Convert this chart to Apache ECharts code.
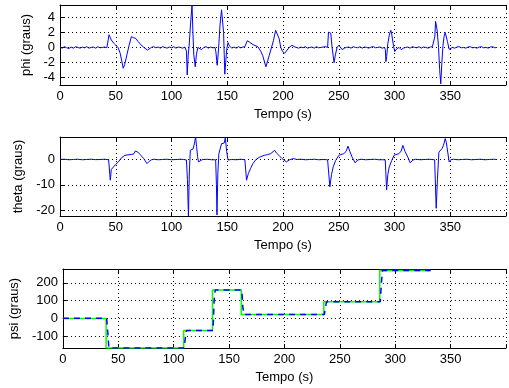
<!DOCTYPE html>
<html>
<head>
<meta charset="utf-8">
<script src="https://cdn.jsdelivr.net/npm/echarts@6/dist/echarts.min.js"></script>
<style>
  html, body { margin: 0; padding: 0; background: #fff; }
  #chart { width: 509px; height: 388px; }
</style>
</head>
<body>
<div id="chart"></div>
<script>
// x ticks (s)
const timeTicks = [0, 50, 100, 150, 200, 250, 300, 350]

// phi (graus)
const phiTime = [0, 2, 4, 6, 8, 10, 12, 14, 16, 18, 20, 22, 24, 26, 28, 30, 32, 34, 36, 38, 40, 42, 43.3, 44, 46, 48, 50, 52, 54, 56.7, 58, 60, 62, 64, 66, 67, 68, 70, 72.6, 74, 76, 78.5, 80, 82, 84, 86, 88, 90, 92, 94, 96, 98, 100, 102, 104, 106, 108, 110, 112, 113.4, 114.1, 115, 115.8, 117, 118.4, 119.2, 120, 121.3, 122.3, 123.6, 125, 127, 129, 131, 133, 135, 137, 139, 139.8, 141, 141.8, 142.5, 143.5, 144.9, 146, 146.7, 147.3, 147.8, 148.6, 149.5, 150.7, 152, 154, 156, 158, 160, 162, 164, 165.8, 168, 170, 171.6, 174, 177.4, 180, 181.8, 184.7, 187.6, 191.4, 193.4, 195, 196.5, 198, 199.5, 201.3, 203, 205, 208, 210, 212, 214, 216, 218, 220, 222, 224, 226, 228, 230, 232, 234, 236, 238, 240, 240.8, 242, 242.9, 244, 245.8, 247, 248.5, 250.1, 251.5, 253, 255, 257, 259, 261, 263, 265, 267, 269, 271, 273, 275, 277, 279, 281, 283, 285, 287, 289, 291, 291.8, 292.3, 293, 294, 295.5, 296.7, 297.5, 299, 300.2, 302, 304, 306, 308, 310, 312, 314, 316, 318, 320, 322, 324, 326, 328, 330, 332, 334, 335.5, 336.2, 336.8, 337.5, 338.3, 339.5, 340.5, 341.5, 342.5, 343.5, 344.5, 345.5, 346.5, 347.5, 349, 350, 352, 354, 356, 358, 360, 362, 364, 366, 368, 370, 372, 374, 376, 378, 380, 382, 384, 386, 388, 390, 392]
const phi = [0.05, -0.1, 0.1, -0.05, -0.15, 0.05, -0.1, 0.1, 0, -0.1, 0.05, -0.05, 0.1, -0.1, 0, 0.05, -0.1, 0.1, -0.05, 0, 0.05, -0.05, 0, 1.7, 1.0, 0.6, 0.3, 0, -0.8, -2.8, -2.3, -1.0, 0.3, 1.45, 1.3, 1.5, 1.2, 0.8, 0.35, 0.2, -0.1, -0.35, -0.2, 0, 0.1, -0.05, 0.05, -0.1, 0.1, 0, -0.1, 0.05, -0.05, 0.1, -0.1, 0.05, 0, -0.1, 0.05, -0.5, -3.7, -1, 0.2, 3, 5.7, 2, -1, -2.6, -1, 0, -0.1, -0.3, 0, 0.1, -0.1, 0.05, -0.05, 0, -0.6, -2.4, -1, 0.5, 3, 5.05, 5.2, 2, -1, -3.6, -2, -0.3, 0.65, 0.2, -0.1, 0.05, -0.1, 0.1, -0.05, 0.05, 0.1, 0.9, 0.7, 0.65, 0.3, 0.1, -0.5, -1.1, -2.6, -1.1, 0.9, 2.3, 2.2, 1.2, 0, -0.5, -0.8, -0.5, -0.1, 0.3, 0.1, 0, -0.1, 0.05, -0.05, 0.1, -0.1, 0, 0.05, -0.1, 0.1, -0.05, 0, 0.05, 0.1, 0, 2.05, 1.8, 1.9, 0, -2.05, -1.0, 0, 0.3, 0.1, -0.3, -0.1, 0, 0.05, -0.1, 0.1, 0, -0.05, 0.1, -0.1, 0.05, 0, -0.1, 0.05, 0.1, -0.05, 0, 0.05, -0.1, 0, -0.3, -1.9, -1.2, 0.5, 1.8, 2.3, 1.8, 0.3, -0.55, -0.2, 0, -0.3, -0.1, 0, 0.05, -0.1, 0.1, 0, -0.05, 0.1, -0.1, 0.05, 0, -0.1, 0.05, 0.1, 0, 1.5, 3.5, 3.0, 2.2, 0, -3, -4.9, -2, 0.3, 1.5, 2.0, 1.8, 0.8, -0.25, -0.2, 0, -0.1, 0.05, 0.1, -0.05, 0, -0.1, 0.05, 0.1, -0.05, 0, -0.1, 0.05, 0.1, -0.05, 0, -0.1, 0.05, 0.1, -0.05, 0]

// theta (graus)
const thetaTime = [0, 4, 8, 12, 16, 20, 24, 28, 32, 36, 40, 43.6, 45.1, 46, 48, 50, 52.4, 55, 58.2, 61, 64, 66, 67.5, 69.8, 72, 75, 78, 80, 82, 84.3, 88, 92, 96, 100, 104, 108, 111, 113.4, 114.3, 115.2, 116, 116.9, 119.3, 120.5, 121.6, 122.5, 123.4, 124.2, 125.5, 128, 132, 136, 139.6, 140.3, 140.8, 141.6, 142.5, 144.9, 146.3, 147.2, 148.3, 149.5, 150.7, 154, 158, 162, 165.8, 167.3, 169, 171, 173, 176, 179, 183.2, 186, 189, 192.5, 194, 196.3, 199, 203, 206, 209.4, 212, 216, 220, 224, 228, 232, 236, 240, 242, 243.5, 245, 247.2, 250.1, 254.5, 256.5, 258.3, 260, 262, 264.7, 267, 270, 274, 278, 282, 286, 291.7, 292.9, 294, 295.3, 297.5, 299.6, 304, 306, 307.5, 309.5, 312, 314.1, 316.5, 319, 323, 327, 331, 336, 337.4, 338.5, 339.8, 342.7, 344, 345.5, 346.5, 347.6, 349, 350.5, 353, 357, 361, 365, 369, 373, 377, 381, 385, 389, 392]
const theta = [-0.1, 0, -0.2, -0.1, 0, -0.2, -0.1, 0, -0.15, -0.1, 0, -0.2, -8.2, -4, -3, -2, -1, 0.5, 1.55, 1.7, 1.9, 2.0, 3.2, 2.8, 1.8, 0.3, -1.7, -0.8, -0.2, 0, -0.2, -0.1, 0, -0.2, -0.1, 0, -0.1, -0.3, -8, -22.2, -5, 3.5, 4, 6, 8.7, 5, 1, -1, -0.3, -0.1, 0, -0.2, -0.2, -10, -21.8, -5, 2.2, 6.1, 6.5, 6.3, 8.4, 3, -0.3, -0.1, -0.2, 0, -0.2, -8.2, -5.5, -3.5, -1.7, 0, 0.8, 1.55, 1.8, 2.2, 3.5, 2.5, 1.55, 0.3, -1, -0.2, 0.3, -0.1, 0, -0.2, -0.1, 0, -0.2, -0.1, -0.2, -10.8, -6, -3, -0.5, 1.55, 2.2, 3, 5.1, 3, 0.8, -1.4, -0.3, 0, -0.2, -0.1, 0, -0.2, -0.2, -12, -6, -3, -0.5, 1.55, 2.2, 3.2, 5.4, 3, 0.8, -1.4, -0.3, 0, -0.2, -0.1, 0, -0.2, -19.2, -8, 2.8, 4.2, 5.5, 8.1, 6.5, 6.1, -1, -0.2, 0, -0.2, -0.1, 0, -0.2, -0.1, 0, -0.2, -0.1, 0, -0.1]

// psi (graus): reference (green) and measured (blue dashed)
const psiRefTime = [0, 39, 39, 109, 109, 135, 135, 161, 161, 235.5, 235.5, 286, 286, 332]
const psiRef = [0, 0, -166, -166, -68, -68, 160, 160, 22, 22, 94, 94, 269, 269]
const psiTime = [0, 39.5, 40.5, 41.5, 109.5, 110.5, 111.5, 135.5, 136.5, 137.5, 161.5, 162.5, 163.5, 236, 237, 238, 286.5, 287.5, 288.5, 332]
const psi = [1, 1, -80, -166, -166, -110, -68, -68, 100, 160, 160, 60, 22, 22, 60, 94, 94, 200, 269, 269]

const FONT = 'Liberation Sans, Arial, Helvetica, sans-serif'
const zip = (xs, ys) => xs.map((x, i) => [x, ys[i]])

const panels = [
  { top: 5, height: 80, name: 'phi (graus)', min: -5.05, max: 5.7, step: 2, split: 5, nameGap: 23 },
  { top: 137, height: 79, name: 'theta (graus)', min: -22.2, max: 8.7, step: 10, split: 3, nameGap: 31 },
  { top: 269, height: 79, name: 'psi (graus)', min: -166, max: 278, step: 100, split: 4, nameGap: 38 }
]

const grid = panels.map(p => ({ left: 60, top: p.top, width: 458, height: p.height }))

const xAxis = []
panels.forEach((p, i) => {
  xAxis.push({
    gridIndex: i,
    type: 'value',
    min: 0,
    max: 400,
    interval: 50,
    position: 'bottom',
    name: 'Tempo (s)',
    nameLocation: 'middle',
    nameGap: 23,
    nameTextStyle: { fontSize: 13, color: '#000', fontFamily: FONT },
    axisLine: { show: true, onZero: false, lineStyle: { color: '#000', width: 1 } },
    axisTick: { show: true, inside: true, length: 4, lineStyle: { color: '#000' } },
    axisLabel: {
      margin: 5, fontSize: 13, color: '#000', fontFamily: FONT,
      formatter: v => (timeTicks.indexOf(v) >= 0 ? String(v) : '')
    },
    splitLine: { show: true, lineStyle: { color: '#000', width: 1, type: [1, 3] } }
  })
  // top edge of the box
  xAxis.push({
    gridIndex: i,
    type: 'value',
    min: 0,
    max: 400,
    interval: 50,
    position: 'top',
    axisLine: { show: true, onZero: false, lineStyle: { color: '#000', width: 1 } },
    axisTick: { show: true, inside: true, length: 4, lineStyle: { color: '#000' } },
    axisLabel: { show: false },
    splitLine: { show: false }
  })
})

const yAxis = panels.map((p, i) => ({
  gridIndex: i,
  type: 'value',
  min: p.min,
  max: p.max,
  splitNumber: p.split,
  name: p.name,
  nameLocation: 'middle',
  nameGap: p.nameGap,
  nameTextStyle: { fontSize: 13, color: '#000', fontFamily: FONT },
  axisLine: { show: true, onZero: false, lineStyle: { color: '#000', width: 1 } },
  axisTick: { show: true, inside: true, length: 4, lineStyle: { color: '#000' } },
  axisLabel: {
    margin: 5, fontSize: 13, color: '#000', fontFamily: FONT,
    formatter: v => (Math.abs(v - Math.round(v / p.step) * p.step) < 1e-6 ? String(Math.round(v)) : '')
  },
  splitLine: { show: true, lineStyle: { color: '#000', width: 1, type: [1, 3] } }
}))

const line = (xi, yi, data, color, width, type) => ({
  type: 'line',
  xAxisIndex: xi,
  yAxisIndex: yi,
  data,
  showSymbol: false,
  symbol: 'none',
  clip: true,
  silent: true,
  lineStyle: { color, width, type: type || 'solid' }
})

const option = {
  animation: false,
  backgroundColor: '#fff',
  grid,
  xAxis,
  yAxis,
  series: [
    line(0, 0, zip(phiTime, phi), '#0000ff', 1),
    line(2, 1, zip(thetaTime, theta), '#0000ff', 1),
    line(4, 2, zip(psiRefTime, psiRef), '#00ff00', 1.5),
    line(4, 2, zip(psiTime, psi), '#0000ff', 1.5, [6, 5])
  ]
}

const chart = echarts.init(document.getElementById('chart'), null, { renderer: 'canvas' })
chart.setOption(option)
</script>
</body>
</html>
